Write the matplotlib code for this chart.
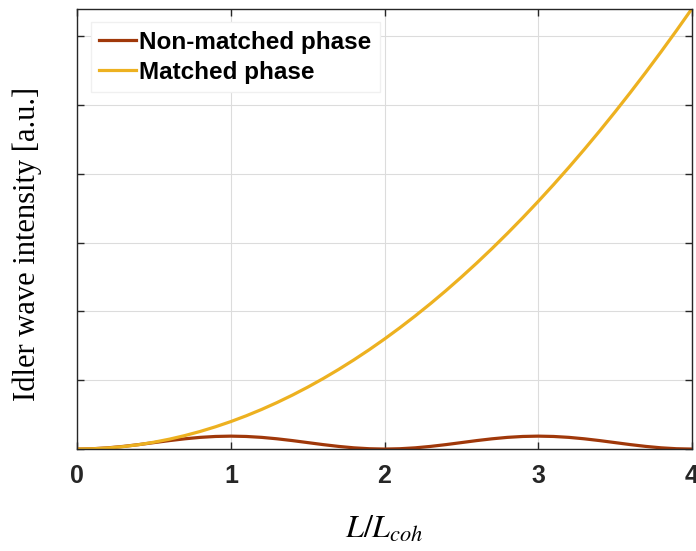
import matplotlib
matplotlib.use("Agg")
import matplotlib.pyplot as plt

# L / L_coh sample positions
x = [0.0, 0.1, 0.2, 0.3, 0.4, 0.5, 0.6, 0.7, 0.8, 0.9,
     1.0, 1.1, 1.2, 1.3, 1.4, 1.5, 1.6, 1.7, 1.8, 1.9,
     2.0, 2.1, 2.2, 2.3, 2.4, 2.5, 2.6, 2.7, 2.8, 2.9,
     3.0, 3.1, 3.2, 3.3, 3.4, 3.5, 3.6, 3.7, 3.8, 3.9, 4.0]

# idler intensity (arbitrary units)
non_matched = [0.0, 0.012, 0.045, 0.097, 0.162, 0.235, 0.308, 0.373, 0.425, 0.458,
               0.47, 0.458, 0.425, 0.373, 0.308, 0.235, 0.162, 0.097, 0.045, 0.012,
               0.0, 0.012, 0.045, 0.097, 0.162, 0.235, 0.308, 0.373, 0.425, 0.458,
               0.47, 0.458, 0.425, 0.373, 0.308, 0.235, 0.162, 0.097, 0.045, 0.012, 0.0]
matched = [0.0, 0.01, 0.04, 0.09, 0.16, 0.25, 0.36, 0.49, 0.64, 0.81,
           1.0, 1.21, 1.44, 1.69, 1.96, 2.25, 2.56, 2.89, 3.24, 3.61,
           4.0, 4.41, 4.84, 5.29, 5.76, 6.25, 6.76, 7.29, 7.84, 8.41,
           9.0, 9.61, 10.24, 10.89, 11.56, 12.25, 12.96, 13.69, 14.44, 15.21, 16.0]

xticks = [0, 1, 2, 3, 4]
yticks = [0, 2.5, 5, 7.5, 10, 12.5, 15]

plt.rcParams['mathtext.fontset'] = 'stix'

fig = plt.figure(figsize=(6.96, 5.51), dpi=100)
ax = fig.add_axes([0.111, 0.185, 0.883, 0.799])

ax.plot(x, non_matched, color='#a0380a', lw=2.3, label='Non-matched phase')
ax.plot(x, matched, color='#edb120', lw=2.3, label='Matched phase')

ax.set_xlim(0, 4)
ax.set_ylim(0, 16)
ax.set_xticks(xticks)
ax.set_yticks(yticks)
ax.set_yticklabels([])
ax.tick_params(direction='in', top=True, right=True, length=5, width=1,
               colors='#262626', labelsize=18, pad=11)
for lab in ax.get_xticklabels():
    lab.set_fontweight('bold')
    lab.set_family('Liberation Sans')
ax.grid(True, color='#dcdcdc', lw=0.8)
ax.set_axisbelow(True)
for s in ax.spines.values():
    s.set_color('#262626')
    s.set_linewidth(1)

ax.set_xlabel(r'$L/L_{coh}$', fontsize=23)
ax.xaxis.set_label_coords(0.5, -0.147)
ax.set_ylabel('Idler wave intensity [a.u.]', fontsize=22, family='Liberation Serif')
ax.yaxis.set_label_coords(-0.057, 0.465)

leg = ax.legend(loc='upper left', prop={'family': 'Liberation Sans', 'weight': 'bold', 'size': 17.5},
                handlelength=1.5, handletextpad=0.15, borderpad=0.35, labelspacing=0.3,
                fancybox=False, framealpha=1, edgecolor='#f0f0f0', borderaxespad=0.55)

fig.savefig('out.png', dpi=100)
